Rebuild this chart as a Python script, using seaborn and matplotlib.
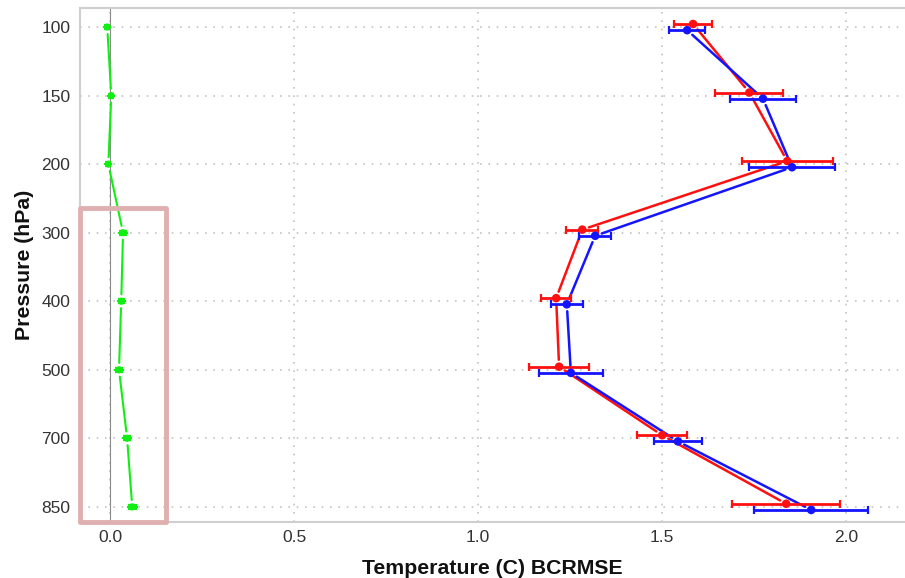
import numpy as np
import pandas as pd
import matplotlib
matplotlib.use("Agg")
import matplotlib.pyplot as plt
from matplotlib.patches import Rectangle
import seaborn as sns

levels = [100, 150, 200, 300, 400, 500, 700, 850]
red_vals = [1.584, 1.737, 1.840, 1.283, 1.212, 1.220, 1.500, 1.837]
red_err = [0.052, 0.092, 0.124, 0.044, 0.040, 0.082, 0.068, 0.147]
blue_vals = [1.568, 1.774, 1.853, 1.318, 1.241, 1.252, 1.543, 1.905]
blue_err = [0.048, 0.090, 0.117, 0.044, 0.043, 0.086, 0.064, 0.154]
green_vals = [-0.008, 0.003, -0.005, 0.035, 0.030, 0.024, 0.046, 0.060]
green_err = [0.008, 0.008, 0.008, 0.010, 0.010, 0.010, 0.010, 0.012]
x_ticks = [0.0, 0.5, 1.0, 1.5, 2.0]

sns.set_theme(style="white")
plt.rcParams['font.family'] = ['Liberation Sans', 'DejaVu Sans']

series = [
    ("red", red_vals, red_err, "#ff1010", -0.045, 2.0, 3.0, 1.8, 38),
    ("blue", blue_vals, blue_err, "#1414ff", 0.045, 2.0, 3.0, 1.8, 38),
    ("green", green_vals, green_err, "#11ee11", 0.0, 4.5, 0.8, 1.5, 26),
]

rows = []
for name, vals, errs, color, off, elw, cap, lw, ms in series:
    for i, (lv, v, e) in enumerate(zip(levels, vals, errs)):
        rows.append(dict(series=name, level=lv, pos=i + off, value=v, err=e, size=ms))
df = pd.DataFrame(rows)

fig = plt.figure(figsize=(9.05, 5.78), dpi=100)
ax = fig.add_axes([0.0884, 0.097, 0.9116, 0.889])

ax.axvline(0, color="#8a8a8a", lw=0.8, zorder=1)

for name, vals, errs, color, off, elw, cap, lw, ms in series:
    sub = df[df.series == name]
    ax.errorbar(sub.value, sub.pos, xerr=sub.err, fmt="none", ecolor=color,
                elinewidth=elw, capsize=cap, capthick=1.6, zorder=3)
    xs = sub.value.to_numpy()
    ys = sub.pos.to_numpy()
    for k in range(len(xs) - 1):
        ax.annotate("", xy=(xs[k + 1], ys[k + 1]), xytext=(xs[k], ys[k]),
                    xycoords="data", textcoords="data",
                    arrowprops=dict(arrowstyle="-", color=color, lw=lw,
                                    shrinkA=5, shrinkB=5), zorder=2)

pal = {s[0]: s[3] for s in series}
sns.scatterplot(data=df, x="value", y="pos", hue="series", palette=pal,
                size="size", sizes=(26, 38), linewidth=0, legend=False, ax=ax, zorder=4)

ax.set_xlim(-0.082, 2.16)
ax.set_ylim(7.22, -0.277)
ax.set_xticks(x_ticks)
ax.set_xticklabels([f"{t:.1f}" for t in x_ticks])
ax.set_yticks(range(len(levels)))
ax.set_yticklabels([str(l) for l in levels])

ax.grid(True, color="#c4c4c4", linestyle=(0, (1, 4)), lw=1.2)
for side in ["left", "bottom", "top"]:
    ax.spines[side].set_color("#cfcfcf")
    ax.spines[side].set_linewidth(1.5)
ax.spines["right"].set_visible(False)
ax.tick_params(axis="both", length=0, labelsize=12.5, colors="#333333")
ax.tick_params(axis="y", pad=7)
ax.tick_params(axis="x", pad=6)

ax.set_xlabel("Temperature (C) BCRMSE", fontsize=15.3, fontweight="bold", labelpad=10, color="#111111")
ax.set_ylabel("Pressure (hPa)", fontsize=15.3, fontweight="bold", labelpad=5, color="#111111")

rect = Rectangle((-0.082, 2.64), 0.234, 4.58, fill=False, edgecolor="#dfb0b0",
                 lw=3.5, clip_on=False, zorder=5, joinstyle="round")
ax.add_patch(rect)

fig.savefig("out.png", dpi=100)
